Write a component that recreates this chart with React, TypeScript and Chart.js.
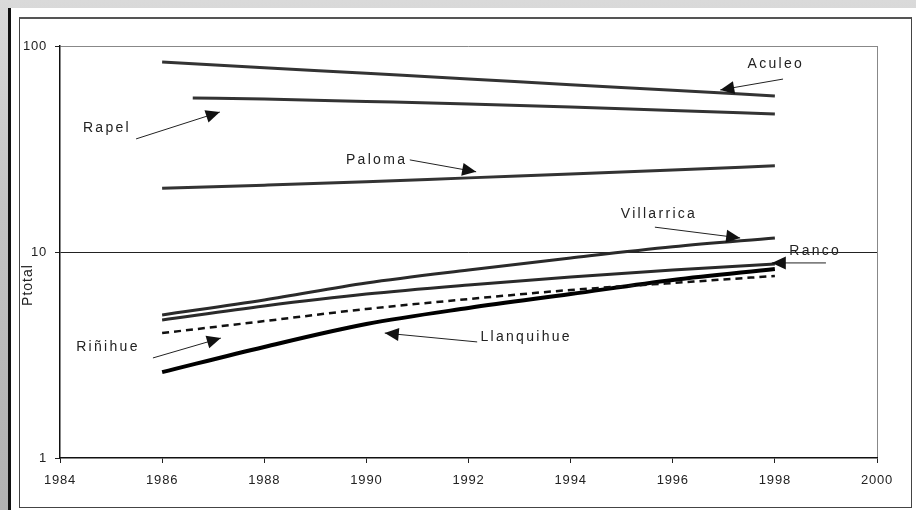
import React, { useEffect, useRef } from 'react';
import { Chart, registerables } from 'chart.js';

Chart.register(...registerables);

// ---- data ----
const years = [1986, 1988, 1990, 1992, 1994, 1996, 1998];
const rapelYears = [1986.6, 1988, 1990, 1992, 1994, 1996, 1998];
const aculeo = [83.6, 78.5, 73.7, 69.2, 64.9, 61.0, 57.2];
const rapel = [55.9, 55.3, 53.8, 52.3, 50.6, 48.6, 46.8];
const paloma = [20.4, 21.1, 21.9, 22.9, 23.9, 25.0, 26.2];
const villarrica = [4.95, 5.85, 7.07, 8.18, 9.35, 10.6, 11.7];
const ranco = [4.68, 5.47, 6.25, 6.92, 7.56, 8.18, 8.75];
const rinihue = [4.04, 4.62, 5.29, 5.91, 6.54, 7.07, 7.65];
const llanquihue = [2.61, 3.46, 4.47, 5.35, 6.25, 7.31, 8.27];

const xTicks = [1984, 1986, 1988, 1990, 1992, 1994, 1996, 1998, 2000];
const yTicks = [1, 10, 100];
const yTitle = 'Ptotal';

// annotation labels: arrow tip, arrow tail, label centre (in data units: year, value)
const annotNames = ['Aculeo', 'Rapel', 'Paloma', 'Villarrica', 'Ranco', 'Riñihue', 'Llanquihue'];
const annotTips: [number, number][] = [
  [1996.93, 61.2], [1987.13, 47.8], [1992.15, 24.5], [1997.32, 11.7], [1997.94, 8.85], [1987.15, 3.82], [1990.36, 4.04],
];
const annotTails: [number, number][] = [
  [1998.16, 69.1], [1985.49, 35.4], [1990.85, 28.0], [1995.65, 13.2], [1999.0, 8.85], [1985.82, 3.06], [1992.17, 3.66],
];
const annotLabels: [number, number][] = [
  [1998.02, 81.8], [1984.92, 40.0], [1990.2, 28.0], [1995.73, 15.3], [1998.79, 10.1], [1984.94, 3.46], [1993.13, 3.87],
];

const pts = (xs: number[], ys: number[]) => xs.map((x, i) => ({ x, y: ys[i] }));

const annotationPlugin = {
  id: 'annotations',
  beforeDraw(chart: any) {
    (chart.ctx as any).letterSpacing = '0.8px';
  },
  afterDatasetsDraw(chart: any) {
    const { ctx, scales, chartArea } = chart;
    const xs = scales.x;
    const ys = scales.y;
    ctx.save();
    for (let i = 0; i < annotNames.length; i++) {
      const tx = xs.getPixelForValue(annotTips[i][0]);
      const ty = ys.getPixelForValue(annotTips[i][1]);
      const sx = xs.getPixelForValue(annotTails[i][0]);
      const sy = ys.getPixelForValue(annotTails[i][1]);
      const lx = xs.getPixelForValue(annotLabels[i][0]);
      const ly = ys.getPixelForValue(annotLabels[i][1]);
      ctx.strokeStyle = '#222';
      ctx.lineWidth = 1;
      ctx.setLineDash([]);
      ctx.beginPath();
      ctx.moveTo(sx, sy);
      ctx.lineTo(tx, ty);
      ctx.stroke();
      const ang = Math.atan2(ty - sy, tx - sx);
      const len = 14;
      const hw = 6.5;
      const bx = tx - Math.cos(ang) * len;
      const by = ty - Math.sin(ang) * len;
      ctx.fillStyle = '#111';
      ctx.beginPath();
      ctx.moveTo(tx, ty);
      ctx.lineTo(bx + Math.sin(ang) * hw, by - Math.cos(ang) * hw);
      ctx.lineTo(bx - Math.sin(ang) * hw, by + Math.cos(ang) * hw);
      ctx.closePath();
      ctx.fill();
      ctx.font = '14px "Liberation Sans", Arial, sans-serif';
      (ctx as any).letterSpacing = '2.3px';
      ctx.fillStyle = '#222';
      ctx.textAlign = 'center';
      ctx.textBaseline = 'middle';
      ctx.fillText(annotNames[i], lx, ly);
    }
    // y-axis title
    ctx.translate(chartArea.left - 32, (chartArea.top + chartArea.bottom) / 2 + 33);
    ctx.rotate(-Math.PI / 2);
    ctx.font = '14px "Liberation Sans", Arial, sans-serif';
    (ctx as any).letterSpacing = '1px';
    ctx.fillStyle = '#222';
    ctx.textAlign = 'center';
    ctx.textBaseline = 'middle';
    ctx.fillText(yTitle, 0, 0);
    ctx.restore();
  },
};

export default function App() {
  const ref = useRef<HTMLCanvasElement | null>(null);
  useEffect(() => {
    if (!ref.current) return;
    const mk = (label: string, xs: number[], ys: number[], color: string, width: number, dash: number[] = []) => ({
      label,
      data: pts(xs, ys),
      borderColor: color,
      borderWidth: width,
      borderDash: dash,
      pointRadius: 0,
      fill: false,
      cubicInterpolationMode: 'monotone' as const,
    });
    const chart = new Chart(ref.current, {
      type: 'line',
      data: {
        datasets: [
          mk('Aculeo', years, aculeo, '#333', 3),
          mk('Rapel', rapelYears, rapel, '#333', 3),
          mk('Paloma', years, paloma, '#333', 3),
          mk('Villarrica', years, villarrica, '#2a2a2a', 3),
          mk('Ranco', years, ranco, '#2a2a2a', 3),
          mk('Riñihue', years, rinihue, '#111', 2.5, [7, 5]),
          mk('Llanquihue', years, llanquihue, '#000', 4),
        ],
      },
      options: {
        responsive: false,
        animation: false,
        devicePixelRatio: 1,
        layout: { padding: { left: 0, top: 27, right: 34, bottom: 0 } },
        plugins: { legend: { display: false }, tooltip: { enabled: false } },
        scales: {
          x: {
            type: 'linear',
            min: 1984,
            max: 2000,
            afterBuildTicks: (s: any) => {
              s.ticks = xTicks.map((v) => ({ value: v }));
            },
            afterFit: (s: any) => {
              s.height = 49;
            },
            ticks: {
              callback: (v: any) => String(v),
              color: '#222',
              font: { family: '"Liberation Sans", Arial, sans-serif', size: 13 },
              padding: 10,
              maxRotation: 0,
              autoSkip: false,
            },
            grid: {
              drawOnChartArea: true,
              color: (c: any) => (c.tick && c.tick.value === 2000 ? '#888' : 'rgba(0,0,0,0)'),
              tickColor: '#222',
              tickLength: 5,
              lineWidth: 1,
            },
            border: { display: true, color: '#111', width: 1.5 },
          },
          y: {
            type: 'logarithmic',
            min: 1,
            max: 100,
            afterBuildTicks: (s: any) => {
              s.ticks = yTicks.map((v) => ({ value: v }));
            },
            afterFit: (s: any) => {
              s.width = 40;
            },
            ticks: {
              callback: (v: any) => String(v),
              color: '#222',
              font: { family: '"Liberation Sans", Arial, sans-serif', size: 13 },
              padding: 8,
              autoSkip: false,
            },
            grid: {
              drawOnChartArea: true,
              color: (c: any) =>
                c.tick && c.tick.value === 10 ? '#222' : c.tick && c.tick.value === 100 ? '#888' : 'rgba(0,0,0,0)',
              tickColor: '#222',
              tickLength: 5,
              lineWidth: 1,
            },
            border: { display: true, color: '#111', width: 1.5 },
          },
        },
      },
      plugins: [annotationPlugin],
    } as any);
    return () => chart.destroy();
  }, []);

  return (
    <div
      style={{
        position: 'fixed',
        left: 0,
        top: 0,
        width: 916,
        height: 510,
        overflow: 'hidden',
        background: 'linear-gradient(to bottom, #dadada 0%, #c4c4c4 40%, #b0b0b0 100%)',
      }}
    >
      <div
        style={{
          position: 'absolute',
          left: 8,
          top: 8,
          width: 908,
          height: 502,
          background: '#fff',
          borderLeft: '3px solid #111',
          boxSizing: 'border-box',
        }}
      />
      <div
        style={{
          position: 'absolute',
          left: 19,
          top: 17,
          width: 893,
          height: 491,
          border: '1px solid #444',
          borderTop: '2px solid #555',
          boxSizing: 'border-box',
          background: '#fff',
        }}
      />
      <canvas
        ref={ref}
        width={891}
        height={488}
        style={{ position: 'absolute', left: 20, top: 19, width: 891, height: 488 }}
      />
    </div>
  );
}
